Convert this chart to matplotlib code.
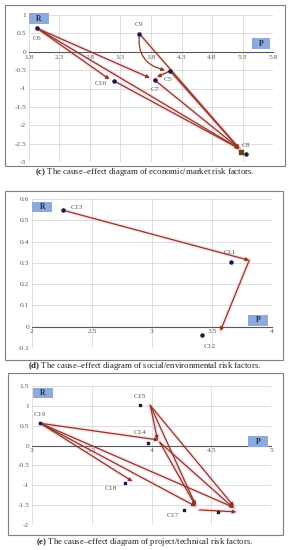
import numpy as np
import matplotlib
matplotlib.use("Agg")
import matplotlib.pyplot as plt
from matplotlib.patches import Rectangle

plt.rcParams['font.family'] = ['Liberation Serif', 'DejaVu Serif']
plt.rcParams['mathtext.fontset'] = 'custom'
plt.rcParams['mathtext.rm'] = 'Liberation Serif'
plt.rcParams['mathtext.bf'] = 'Liberation Serif:bold'

# (c) economic/market risk factors
c_names = ['C5', 'C6', 'C7', 'C8', 'C9', 'C10']
c_x = [4.11, 1.93, 3.86, 5.36, 3.61, 3.20]
c_y = [-0.52, 0.64, -0.77, -2.77, 0.49, -0.80]
c_lab_x = [4.08, 1.93, 3.86, 5.36, 3.61, 2.98]
c_lab_y = [-0.76, 0.37, -1.04, -2.56, 0.74, -0.86]
c_arr_x0 = [1.93, 1.93, 1.93, 3.20, 3.61, 4.11, 4.11, 3.86]
c_arr_y0 = [0.64, 0.64, 0.64, -0.80, 0.49, -0.52, -0.52, -0.77]
c_arr_x1 = [3.12, 3.78, 5.25, 5.25, 5.25, 3.90, 5.25, 5.25]
c_arr_y1 = [-0.75, -0.71, -2.64, -2.64, -2.64, -0.69, -2.64, -2.64]
c_curve = [(3.61, 0.49), (4.03, -0.50)]
c_xticks = [1.8, 2.3, 2.8, 3.3, 3.8, 4.3, 4.8, 5.3, 5.8]
c_yticks = [-3, -2.5, -2, -1.5, -1, -0.5, 0, 0.5, 1]

# (d) social/environmental risk factors
d_names = ['C11', 'C12', 'C13']
d_x = [3.66, 3.42, 2.26]
d_y = [0.304, -0.037, 0.547]
d_lab_x = [3.65, 3.48, 2.37]
d_lab_y = [0.35, -0.095, 0.562]
d_arr_x0 = [2.26, 3.81]
d_arr_y0 = [0.547, 0.312]
d_arr_x1 = [3.81, 3.57]
d_arr_y1 = [0.312, -0.02]
d_xticks = [2, 2.5, 3, 3.5, 4]
d_yticks = [-0.1, 0, 0.1, 0.2, 0.3, 0.4, 0.5, 0.6]

# (e) project/technical risk factors
e_names = ['C14', 'C15', 'C16', 'C17', 'C18', 'C19']
e_x = [3.97, 3.90, 4.56, 4.27, 3.78, 3.07]
e_y = [0.06, 1.03, -1.67, -1.63, -0.93, 0.56]
e_lab_x = [3.90, 3.90, None, 4.18, 3.66, 3.07]
e_lab_y = [0.32, 1.24, None, -1.75, -1.07, 0.78]
e_arr_x0 = [3.07, 3.07, 3.07, 3.07, 3.99, 3.99, 3.99, 4.07, 4.07, 4.40]
e_arr_y0 = [0.56, 0.56, 0.56, 0.56, 1.01, 1.01, 1.01, 0.08, 0.08, -1.62]
e_arr_x1 = [4.06, 3.84, 4.37, 4.69, 4.05, 4.37, 4.69, 4.37, 4.69, 4.71]
e_arr_y1 = [0.14, -0.90, -1.53, -1.56, 0.15, -1.50, -1.53, -1.52, -1.58, -1.67]
e_xticks = [3, 3.5, 4, 4.5, 5]
e_yticks = [-2, -1.5, -1, -0.5, 0, 0.5, 1, 1.5]

arrow_col = '#8B3A1F'
pt_col = '#1C1C4A'
txt_col = '#595959'
box_col = '#8EA9DB'

fig = plt.figure(figsize=(2.89, 5.50), dpi=100)
W, H = 289, 550


def px_axes(l, t, r, b):
    return fig.add_axes([l / W, 1 - b / H, (r - l) / W, (b - t) / H])


def frame(l, t, r, b):
    fig.patches.append(Rectangle((l / W, 1 - b / H), (r - l) / W, (b - t) / H,
                                 transform=fig.transFigure, fill=False,
                                 edgecolor='#7F7F7F', lw=0.8))


def setup(ax, xt, yt, xlim, ylim, xfmt):
    ax.set_xlim(*xlim)
    ax.set_ylim(*ylim)
    ax.set_xticks(xt)
    ax.set_yticks(yt)
    ax.set_xticklabels([xfmt(v) for v in xt])
    ax.set_yticklabels([('%g' % v) for v in yt])
    ax.grid(True, color='#D9D9D9', lw=0.6)
    ax.set_axisbelow(True)
    for s in ['top', 'right', 'left']:
        ax.spines[s].set_visible(False)
    ax.spines['bottom'].set_position(('data', 0))
    ax.spines['bottom'].set_color('#595959')
    ax.spines['bottom'].set_linewidth(0.8)
    ax.tick_params(length=0, labelsize=5.4, labelcolor=txt_col, pad=2)
    ax.patch.set_alpha(0)


def arrows(ax, x0, y0, x1, y1):
    for a, b, c, d in zip(x0, y0, x1, y1):
        ax.plot([a, c], [b, d], color='#F7B6D2', lw=3.0, alpha=0.35,
                solid_capstyle='round', zorder=2)
        ax.annotate('', xy=(c, d), xytext=(a, b),
                    arrowprops=dict(arrowstyle='-|>', color=arrow_col, lw=0.9,
                                    mutation_scale=5, shrinkA=0, shrinkB=0),
                    zorder=3)


def points(ax, xs, ys, names, lx, ly, marker, size):
    ax.scatter(xs, ys, s=size, color=pt_col, marker=marker, zorder=4)
    for n, a, b in zip(names, lx, ly):
        if a is not None:
            ax.text(a, b, n, ha='center', va='center', fontsize=5.4,
                    color=txt_col, zorder=5)


def rp_box(ax, cx, cy, w, h, s):
    ax.add_patch(Rectangle((cx - w / 2, cy - h / 2), w, h, transform=ax.transAxes,
                           facecolor=box_col, edgecolor='none', clip_on=False,
                           zorder=6))
    ax.text(cx, cy, s, transform=ax.transAxes, ha='center', va='center',
            fontsize=5.5, fontweight='bold', color='#1F2A44', zorder=7)


def caption(y, tag, text):
    fig.text(0.5, 1 - y / H, r'$\mathbf{(%s)}$ %s' % (tag, text), ha='center',
             va='center', fontsize=6.3, color='#222222')


# panel (c)
frame(5, 5, 285, 166)
ax1 = px_axes(29, 15, 273, 162)
setup(ax1, c_xticks, c_yticks, (1.8, 5.8), (-3, 1), lambda v: '%.1f' % v)
arrows(ax1, c_arr_x0, c_arr_y0, c_arr_x1, c_arr_y1)
ax1.annotate('', xy=c_curve[1], xytext=c_curve[0],
             arrowprops=dict(arrowstyle='-|>', color=arrow_col, lw=0.9,
                             mutation_scale=5, shrinkA=0, shrinkB=0,
                             connectionstyle='arc3,rad=0.45'), zorder=3)
points(ax1, c_x, c_y, c_names, c_lab_x, c_lab_y, 'o', 5)
ax1.scatter([5.27], [-2.72], s=5, marker='s', color='#5A4A1A', zorder=4)
rp_box(ax1, 0.041, 0.976, 0.082, 0.075, 'R')
rp_box(ax1, 0.951, 0.806, 0.074, 0.075, 'P')
caption(172, 'c', 'The cause–effect diagram of economic/market risk factors.')

# panel (d)
frame(5, 191, 283, 360)
ax2 = px_axes(32, 199, 272, 348)
setup(ax2, d_xticks, d_yticks, (2, 4), (-0.1, 0.6), lambda v: '%g' % v)
arrows(ax2, d_arr_x0, d_arr_y0, d_arr_x1, d_arr_y1)
points(ax2, d_x, d_y, d_names, d_lab_x, d_lab_y, 'o', 5)
rp_box(ax2, 0.042, 0.946, 0.083, 0.070, 'R')
rp_box(ax2, 0.942, 0.185, 0.083, 0.074, 'P')
caption(366, 'd', 'The cause–effect diagram of social/environmental risk factors.')

# panel (e)
frame(8, 373, 283, 535)
ax3 = px_axes(32, 386, 271, 525)
setup(ax3, e_xticks, e_yticks, (3, 5), (-2, 1.5), lambda v: '%g' % v)
arrows(ax3, e_arr_x0, e_arr_y0, e_arr_x1, e_arr_y1)
points(ax3, e_x, e_y, e_names, e_lab_x, e_lab_y, 's', 4)
rp_box(ax3, 0.046, 0.95, 0.084, 0.075, 'R')
rp_box(ax3, 0.946, 0.60, 0.084, 0.08, 'P')
caption(542, 'e', 'The cause–effect diagram of project/technical risk factors.')

fig.savefig('out.png', dpi=100)
